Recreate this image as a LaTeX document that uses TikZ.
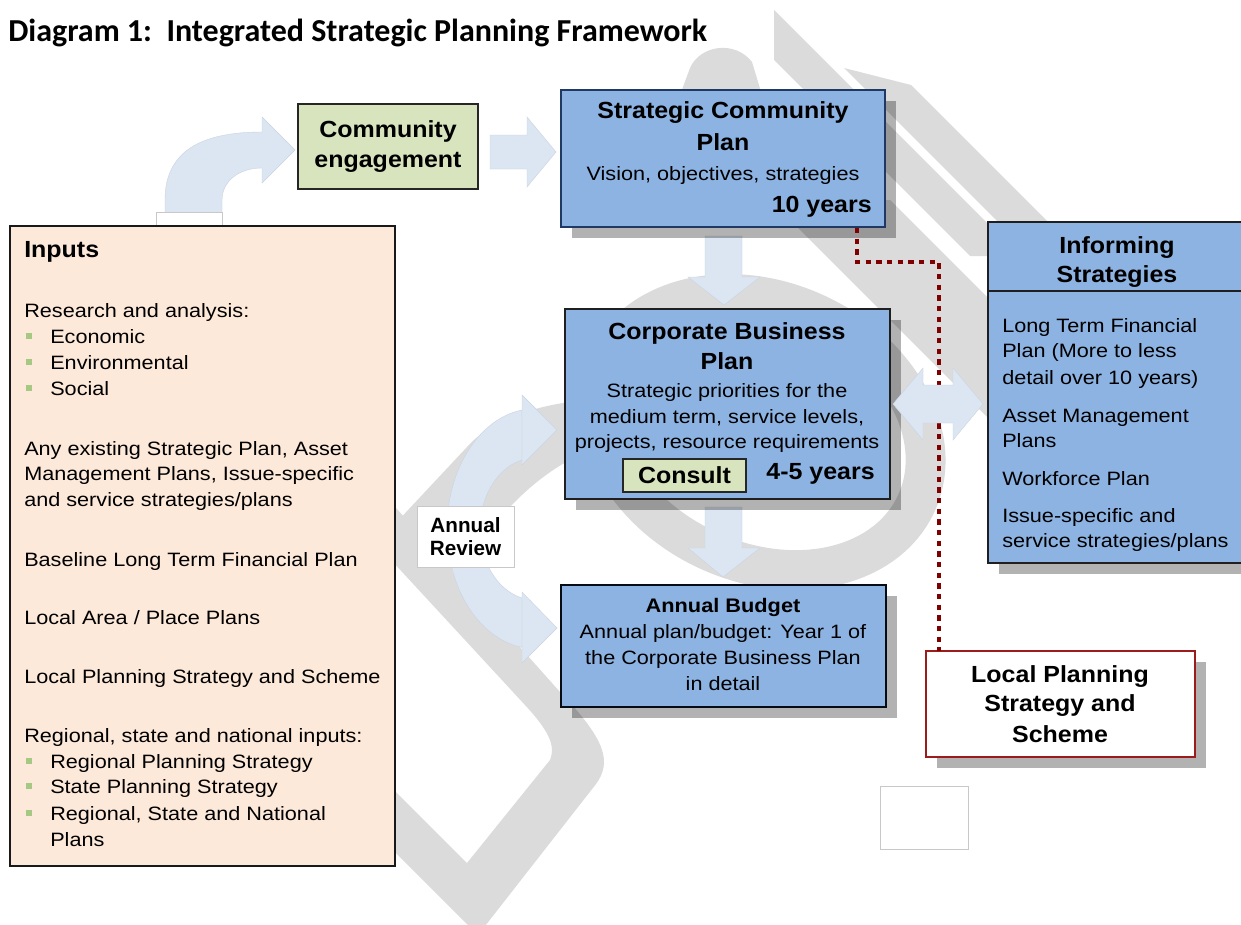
\documentclass[tikz,border=0pt]{standalone}
\usepackage{fontspec}
\setmainfont{Liberation Sans}
\newfontfamily\titlefont{Carlito}
\usetikzlibrary{fit}

\definecolor{planblue}{HTML}{8DB3E2}
\definecolor{navyline}{HTML}{1F3864}
\definecolor{engagegreen}{HTML}{D7E4BD}
\definecolor{inputpeach}{HTML}{FDE9D9}
\definecolor{flowblue}{HTML}{DCE6F2}
\definecolor{dotred}{HTML}{800000}
\definecolor{lpsred}{HTML}{9C1C1C}
\definecolor{bulletgreen}{HTML}{A5C882}
\definecolor{paleedge}{HTML}{C8C8C8}
\definecolor{markgrey}{HTML}{DBDBDB}

\newcommand\bodysize{\fontsize{14.5}{17.4}\selectfont}
\newcommand\headsize{\fontsize{17.5}{21}\selectfont\bfseries}
\newcommand\stretchbody[1]{\scalebox{1.12}[1]{#1}}
\newcommand\stretchhead[1]{\scalebox{1.07}[1]{#1}}

\tikzset{
  shadowed/.style={preaction={draw=none, fill=black, fill opacity=0.3,
      transform canvas={xshift=8.25pt, yshift=-8.25pt}}},
  boxbase/.style={rectangle, inner sep=0pt, line width=1.3pt},
  bluebox/.style={boxbase, draw=black!88, fill=planblue, shadowed},
  greenbox/.style={boxbase, draw=black!85, fill=engagegreen},
  plainbox/.style={rectangle, inner sep=0pt, draw=paleedge, fill=white, line width=0.6pt},
  flow/.style={fill=flowblue, draw=flowblue!92!black, line width=0.3pt},
  dotline/.style={draw=dotred, line width=3.4pt, dash pattern=on 4pt off 4pt},
  body/.style={inner sep=0pt, font=\bodysize},
  head/.style={inner sep=0pt, font=\headsize},
  bulletsq/.style={rectangle, inner sep=0pt, minimum size=4.4pt, fill=bulletgreen},
  wmark/.style={fill=markgrey, draw=none, even odd rule},
}

\begin{document}
\begin{tikzpicture}[x=0.75pt, y=-0.75pt]
\path[use as bounding box, fill=white] (0,0) rectangle (1241,924);

% faint "Draft" watermark strokes behind the diagram
% lower left letter
\path[wmark] (380,490) -- (560,692) .. controls (606,740) and (612,762) .. (596,784) -- (478,935) -- (370,827) -- cycle
  (380,548) -- (525,705) .. controls (548,730) and (556,745) .. (550,760) -- (467,863) -- (370,766) -- cycle;
% shoulder rising towards the business plan
\path[wmark] (640,398) -- (600,400) .. controls (555,400) and (495,415) .. (467,447) -- (380,540)
  -- (420,585) -- (460,567) .. controls (490,530) and (530,470) .. (600,447) -- (640,447) -- cycle;
% round bowl around the business plan
\path[wmark, rotate around={-25:(762,432)}] (762,432) ellipse[x radius=190, y radius=150]
  (762,432) ellipse[x radius=150, y radius=110];
% rounded stroke end above the community plan
\path[wmark] (680,95) -- (690,68) .. controls (700,45) and (735,40) .. (752,62) -- (762,95) -- cycle;
% long diagonal strokes at the top right
\path[wmark] (774,10) -- (1020,256) -- (970,256) -- (774,60) -- cycle;
\path[wmark] (844,68) -- (911,85) -- (1080,254) -- (1030,254) -- cycle;
\path[wmark] (890,200) -- (1110,420) -- (1000,430) -- (770,200) -- cycle;

% title
\node[anchor=base west, inner sep=0pt, font=\titlefont\fontsize{24}{29}\selectfont\bfseries]
  (title) at (8,42) {Diagram 1:\ \ Integrated Strategic Planning Framework};

% block arrows
\path[flow] (165,213) -- (165,200) .. controls (165,152) and (200,132) .. (262,132)
  -- (262,117) -- (295,150) -- (262,183) -- (262,168)
  .. controls (238,168) and (222,182) .. (222,200) -- (222,213) -- cycle;
\path[flow] (490,135) -- (527,135) -- (527,117) -- (556,152) -- (527,187) -- (527,169) -- (490,169) -- cycle;
\path[flow] (705,236) -- (742,236) -- (742,277) -- (760,277) -- (724,305) -- (688,277) -- (705,277) -- cycle;
\path[flow] (705,507) -- (742,507) -- (742,548) -- (760,548) -- (723,577) -- (688,548) -- (705,548) -- cycle;
% annual review loop
\path[flow] (522,410) arc[start angle=261.5, end angle=98.5, x radius=88, y radius=120]
  -- (522,598) arc[start angle=103.7, end angle=256.3, x radius=55, y radius=71] -- cycle;
\path[flow] (522,395) -- (557,430) -- (522,465) -- cycle;
\path[flow] (522,592) -- (557,628) -- (522,663) -- cycle;

% boxes
\node[plainbox, fit={(156,212) (222,226)}] (tab) {};
\node[boxbase, draw=black!90, fill=inputpeach, fit={(10,226) (395,866)}] (inputs) {};
\node[greenbox, fit={(298,104) (478,189)}] (ce) {};
\node[bluebox, draw=navyline, fit={(561,90) (885,227)}] (scp) {};
\node[bluebox, fit={(565,309) (890,499)}] (cbp) {};
\node[greenbox, fit={(623,459) (746,492)}] (consult) {};
\node[bluebox, draw=black!80!navyline, fit={(561,585) (886,707)}] (ab) {};
\node[bluebox, fit={(988,222) (1250,563)}] (inf) {};
\coordinate (hdr) at (0,291);
\draw[line width=1.3pt, black!88] (inf.west |- hdr) -- (inf.east |- hdr);
\node[boxbase, draw=lpsred, line width=1.5pt, fill=white, shadowed, fit={(926,651) (1195,757)}] (lps) {};
\node[plainbox, fit={(880,786) (968,849)}] (blank) {};
\node[plainbox, fit={(417,506) (514,567)}] (review) {};

% dotted link from the community plan to the planning scheme
\coordinate (dotA) at (857,228);
\coordinate (dotB) at (939,651);
\draw[dotline] (dotA) -- (857,262) -- (939,262) -- (dotB);

% two-way arrow between business plan and informing strategies
\path[flow] (893,404) -- (923,368) -- (923,385) -- (953,385) -- (953,368) -- (983,404)
  -- (953,440) -- (953,423) -- (923,423) -- (923,440) -- cycle;

% inputs text
\node[head, anchor=base west] (in0) at (24,257) {\stretchhead{Inputs}};
\node[body, anchor=base west] (in1) at (24,317) {\stretchbody{Research and analysis:}};
\node[bulletsq] (bu1) at (29,336) {};
\node[body, anchor=base west] (in2) at (50,343) {\stretchbody{Economic}};
\node[bulletsq] (bu2) at (29,362) {};
\node[body, anchor=base west] (in3) at (50,369) {\stretchbody{Environmental}};
\node[bulletsq] (bu3) at (29,388) {};
\node[body, anchor=base west] (in4) at (50,395) {\stretchbody{Social}};
\node[body, anchor=base west] (in5) at (24,455) {\stretchbody{Any existing Strategic Plan, Asset}};
\node[body, anchor=base west] (in6) at (24,480) {\stretchbody{Management Plans, Issue-specific}};
\node[body, anchor=base west] (in7) at (24,506) {\stretchbody{and service strategies/plans}};
\node[body, anchor=base west] (in8) at (24,566) {\stretchbody{Baseline Long Term Financial Plan}};
\node[body, anchor=base west] (in9) at (24,624) {\stretchbody{Local Area / Place Plans}};
\node[body, anchor=base west] (in10) at (24,683) {\stretchbody{Local Planning Strategy and Scheme}};
\node[body, anchor=base west] (in11) at (24,742) {\stretchbody{Regional, state and national inputs:}};
\node[bulletsq] (bu4) at (29,761) {};
\node[body, anchor=base west] (in12) at (50,768) {\stretchbody{Regional Planning Strategy}};
\node[bulletsq] (bu5) at (29,786) {};
\node[body, anchor=base west] (in13) at (50,793) {\stretchbody{State Planning Strategy}};
\node[bulletsq] (bu6) at (29,813) {};
\node[body, anchor=base west] (in14) at (50,820) {\stretchbody{Regional, State and National}};
\node[body, anchor=base west] (in15) at (50,846) {\stretchbody{Plans}};

% community engagement
\node[head, anchor=base] (ce1) at (388,137) {\stretchhead{Community}};
\node[head, anchor=base] (ce2) at (388,167) {\stretchhead{engagement}};

% strategic community plan
\node[head, anchor=base] (scp1) at (723,118) {\stretchhead{Strategic Community}};
\node[head, anchor=base] (scp2) at (723,150) {\stretchhead{Plan}};
\node[body, anchor=base] (scp3) at (723,180) {\stretchbody{Vision, objectives, strategies}};
\node[head, anchor=base east] (scp4) at (872,212) {\stretchhead{10 years}};

% corporate business plan
\node[head, anchor=base] (cbp1) at (727,339) {\stretchhead{Corporate Business}};
\node[head, anchor=base] (cbp2) at (727,369) {\stretchhead{Plan}};
\node[body, anchor=base] (cbp3) at (727,397) {\stretchbody{Strategic priorities for the}};
\node[body, anchor=base] (cbp4) at (727,423) {\stretchbody{medium term, service levels,}};
\node[body, anchor=base] (cbp5) at (727,448) {\stretchbody{projects, resource requirements}};
\node[head, anchor=base] (cons) at (684.5,483) {\stretchhead{Consult}};
\node[head, anchor=base east] (cbp6) at (875,479) {\stretchhead{4-5 years}};

% annual budget
\node[inner sep=0pt, anchor=base, font=\fontsize{14.7}{17}\selectfont\bfseries] (ab1) at (723,612) {\scalebox{1.11}[1]{Annual Budget}};
\node[body, anchor=base] (ab2) at (723,638) {\stretchbody{Annual plan/budget: Year 1 of}};
\node[body, anchor=base] (ab3) at (723,664) {\stretchbody{the Corporate Business Plan}};
\node[body, anchor=base] (ab4) at (723,690) {\stretchbody{in detail}};

% annual review label
\node[inner sep=0pt, anchor=base, font=\fontsize{15.5}{18}\selectfont\bfseries] (rv1) at (465.5,532) {Annual};
\node[inner sep=0pt, anchor=base, font=\fontsize{15.5}{18}\selectfont\bfseries] (rv2) at (465.5,555) {Review};

% informing strategies
\node[head, anchor=base] (inf1) at (1117,253) {\stretchhead{Informing}};
\node[head, anchor=base] (inf2) at (1117,282) {\stretchhead{Strategies}};
\node[body, anchor=base west] (inf3) at (1002,332) {\stretchbody{Long Term Financial}};
\node[body, anchor=base west] (inf4) at (1002,357) {\stretchbody{Plan (More to less}};
\node[body, anchor=base west] (inf5) at (1002,384) {\stretchbody{detail over 10 years)}};
\node[body, anchor=base west] (inf6) at (1002,422) {\stretchbody{Asset Management}};
\node[body, anchor=base west] (inf7) at (1002,447) {\stretchbody{Plans}};
\node[body, anchor=base west] (inf8) at (1002,485) {\stretchbody{Workforce Plan}};
\node[body, anchor=base west] (inf9) at (1002,522) {\stretchbody{Issue-specific and}};
\node[body, anchor=base west] (inf10) at (1002,547) {\stretchbody{service strategies/plans}};

% local planning strategy
\node[head, anchor=base] (lps1) at (1060,682) {\stretchhead{Local Planning}};
\node[head, anchor=base] (lps2) at (1060,711) {\stretchhead{Strategy and}};
\node[head, anchor=base] (lps3) at (1060,742) {\stretchhead{Scheme}};
\end{tikzpicture}
\end{document}
